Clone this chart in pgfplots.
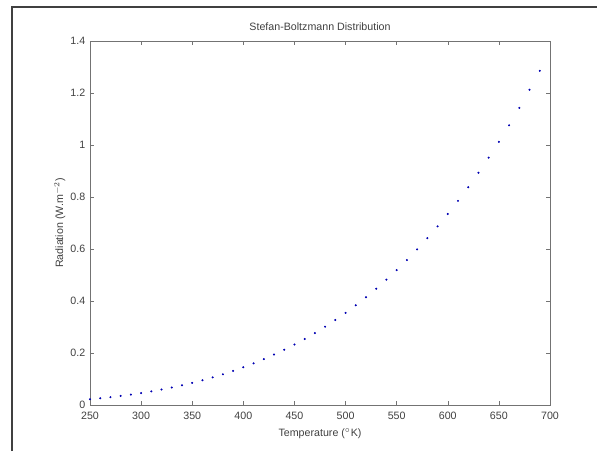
\documentclass[border=0pt]{standalone}
\usepackage{fontspec}
\setmainfont{Liberation Sans}
\usepackage{pgfplots}
\pgfplotsset{compat=1.18}
\begin{document}
\begin{tikzpicture}
\useasboundingbox (0,0) rectangle (447.75pt,338.25pt);
% outer figure frame (left and top edges visible)
\draw[black!75, line width=1.2pt] (9pt,0) -- (9pt,333pt) -- (447.75pt,333pt);
\begin{axis}[
 at={(67.5pt,34.5pt)}, anchor=south west,
 scale only axis, width=345pt, height=273pt,
 xmin=250, xmax=700, ymin=0, ymax=1.4,
 xtick={250,300,...,700},
 ytick={0,0.2,...,1.4},
 font=\fontsize{8}{9.6}\selectfont,
 /pgf/number format/assume math mode=true,
 /pgf/number format/1000 sep={},
 yticklabel style={/pgf/number format/fixed, /pgf/number format/precision=1},
 xticklabel style={yshift=-1.5pt},
 tick align=inside, major tick length=3pt,
 axis line style={black!55},
 every tick/.style={black!55},
 tick label style={text=black!75},
 label style={text=black!75},
 title style={text=black!75, at={(0.5,1)}, anchor=south, yshift=-2pt},
 title={Stefan-Boltzmann Distribution},
 xlabel={Temperature ($^\circ$K)},
 ylabel={Radiation (W.m$^{-2}$)},
 xlabel style={yshift=0pt},
 ylabel style={yshift=-3pt},
]
\addplot[only marks, mark=*, mark size=0.55pt, color=blue!70!black] coordinates {
 (250,0.02215) (260,0.02591) (270,0.03013) (280,0.03485) (290,0.04010)
 (300,0.04593) (310,0.05236) (320,0.05945) (330,0.06724) (340,0.07577)
 (350,0.08509) (360,0.09523) (370,0.10626) (380,0.11823) (390,0.13117)
 (400,0.14515) (410,0.16022) (420,0.17643) (430,0.19385) (440,0.21252)
 (450,0.23251) (460,0.25387) (470,0.27668) (480,0.30099) (490,0.32686)
 (500,0.35438) (510,0.38359) (520,0.41457) (530,0.44739) (540,0.48212)
 (550,0.51884) (560,0.55761) (570,0.59853) (580,0.64165) (590,0.68705)
 (600,0.73483) (610,0.78506) (620,0.83782) (630,0.89319) (640,0.95127)
 (650,1.01213) (660,1.07587) (670,1.14257) (680,1.21232) (690,1.28523)};
\end{axis}
\end{tikzpicture}
\end{document}
